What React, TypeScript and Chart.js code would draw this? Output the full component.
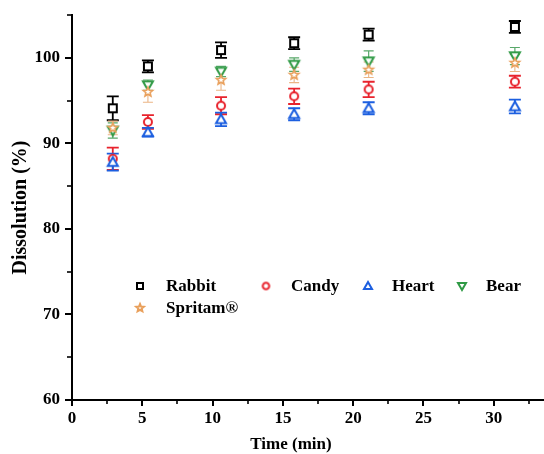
import { useEffect, useRef } from "react";
import { Chart, registerables } from "chart.js";

Chart.register(...registerables);

// Time positions of the sample columns (min)
const timePoints = [2.9, 5.4, 10.6, 15.8, 21.1, 31.5];

const rabbit = [94.1, 99.0, 100.9, 101.7, 102.7, 103.6];
const rabbitErr = [1.4, 0.7, 0.9, 0.7, 0.7, 0.7];
const candy = [88.2, 92.5, 94.4, 95.5, 96.3, 97.2];
const candyErr = [1.3, 0.8, 1.0, 0.9, 0.9, 0.7];
const heart = [87.8, 91.3, 92.8, 93.4, 94.1, 94.3];
const heartErr = [1.0, 0.5, 0.8, 0.7, 0.7, 0.8];
const bear = [91.5, 96.8, 98.4, 99.2, 99.6, 100.2];
const bearErr = [0.9, 0.6, 0.6, 0.8, 1.2, 1.0];
const spritam = [91.8, 96.0, 97.4, 98.0, 98.6, 99.4];
const spritamErr = [0.8, 1.2, 1.2, 0.9, 0.9, 1.0];

const seriesNames = ["Rabbit", "Candy", "Heart", "Bear", "Spritam®"];
const xTitle = "Time (min)";
const yTitle = "Dissolution (%)";

const FONT = "'Liberation Serif', 'Times New Roman', serif";

function makeMarker(shape: string, color: string, size: number, lw: number) {
  const pad = Math.ceil(lw) + 2;
  const dim = Math.ceil(size + pad * 2);
  const c = document.createElement("canvas");
  c.width = dim;
  c.height = dim;
  const ctx = c.getContext("2d")!;
  const cx = dim / 2;
  const cy = dim / 2;
  const r = size / 2;
  ctx.lineWidth = lw;
  ctx.strokeStyle = color;
  ctx.fillStyle = "#fff";
  ctx.lineJoin = "miter";
  ctx.beginPath();
  if (shape === "square") {
    ctx.rect(cx - r, cy - r, size, size);
  } else if (shape === "circle") {
    ctx.arc(cx, cy, r, 0, Math.PI * 2);
  } else if (shape === "up") {
    ctx.moveTo(cx, cy - r);
    ctx.lineTo(cx + r, cy + r * 0.75);
    ctx.lineTo(cx - r, cy + r * 0.75);
    ctx.closePath();
  } else if (shape === "down") {
    ctx.moveTo(cx, cy + r);
    ctx.lineTo(cx + r, cy - r * 0.75);
    ctx.lineTo(cx - r, cy - r * 0.75);
    ctx.closePath();
  } else if (shape === "star") {
    for (let i = 0; i < 10; i++) {
      const a = -Math.PI / 2 + (i * Math.PI) / 5;
      const rr = i % 2 === 0 ? r : r * 0.45;
      const px = cx + rr * Math.cos(a);
      const py = cy + rr * Math.sin(a);
      if (i === 0) ctx.moveTo(px, py);
      else ctx.lineTo(px, py);
    }
    ctx.closePath();
  }
  ctx.fill();
  ctx.stroke();
  return c;
}

const errorBarPlugin = {
  id: "errorBars",
  beforeDatasetsDraw(chart: any) {
    const ctx = chart.ctx;
    const xs = chart.scales.x;
    const ys = chart.scales.y;
    chart.data.datasets.forEach((ds: any) => {
      ctx.save();
      ctx.strokeStyle = ds.errColor;
      ctx.lineWidth = ds.errWidth;
      ds.data.forEach((p: any, j: number) => {
        const e = ds.errors[j];
        const x = xs.getPixelForValue(p.x);
        const yt = ys.getPixelForValue(p.y + e);
        const yb = ys.getPixelForValue(p.y - e);
        const hw = ds.capWidth / 2;
        ctx.beginPath();
        ctx.moveTo(x, yt);
        ctx.lineTo(x, yb);
        ctx.moveTo(x - hw, yt);
        ctx.lineTo(x + hw, yt);
        ctx.moveTo(x - hw, yb);
        ctx.lineTo(x + hw, yb);
        ctx.stroke();
      });
      ctx.restore();
    });
  },
};

const axisTicksPlugin = {
  id: "axisTicks",
  afterDraw(chart: any) {
    const ctx = chart.ctx;
    const xs = chart.scales.x;
    const ys = chart.scales.y;
    const area = chart.chartArea;
    ctx.save();
    ctx.strokeStyle = "#000";
    for (let v = 60; v <= 105; v += 5) {
      const y = Math.round(ys.getPixelForValue(v));
      const major = v % 10 === 0;
      ctx.lineWidth = major ? 2 : 1.6;
      ctx.beginPath();
      ctx.moveTo(area.left, y);
      ctx.lineTo(area.left - (major ? 7 : 5), y);
      ctx.stroke();
    }
    for (let v = 0; v <= 32.5; v += 2.5) {
      const x = Math.round(xs.getPixelForValue(v));
      const major = v % 5 === 0;
      ctx.lineWidth = major ? 2 : 1.6;
      ctx.beginPath();
      ctx.moveTo(x, area.bottom);
      ctx.lineTo(x, area.bottom + (major ? 6 : 4));
      ctx.stroke();
    }
    // x-axis title, slightly left of the axis centre as in the source figure
    ctx.font = `bold 17px ${FONT}`;
    ctx.fillStyle = "#000";
    ctx.textAlign = "center";
    ctx.textBaseline = "middle";
    ctx.fillText(xTitle, area.left + 219, area.bottom + 45);
    ctx.restore();
  },
};

const legendPlugin = {
  id: "insideLegend",
  afterDraw(chart: any) {
    const ctx = chart.ctx;
    const area = chart.chartArea;
    const items = (chart as any).$legendItems as any[];
    if (!items) return;
    ctx.save();
    ctx.font = `bold 17px ${FONT}`;
    ctx.fillStyle = "#000";
    ctx.textBaseline = "middle";
    ctx.textAlign = "left";
    items.forEach((it) => {
      const mx = area.left + it.mx;
      const my = area.top + it.my;
      ctx.drawImage(it.img, mx - it.img.width / 2, my - it.img.height / 2);
      ctx.fillText(it.text, area.left + it.tx, my + 1);
    });
    ctx.restore();
  },
};

export default function App() {
  const ref = useRef<HTMLCanvasElement>(null);

  useEffect(() => {
    const colors = ["#000000", "#e8232d", "#1c5fe0", "#2f9a45", "#e9a05c"];
    const shapes = ["square", "circle", "up", "down", "star"];
    const values = [rabbit, candy, heart, bear, spritam];
    const errs = [rabbitErr, candyErr, heartErr, bearErr, spritamErr];
    const sizes = [8, 8, 10, 10, 10];
    const lws = [2, 2, 2, 2, 1.6];
    const errWidths = [1.8, 1.8, 1.8, 1.2, 1.1];
    const caps = [12, 12, 12, 10, 10];
    const errColors = ["#000000", "#e8232d", "#1c5fe0", "#58a86a", "#ebb585"];

    const datasets = values.map((vals, i) => ({
      label: seriesNames[i],
      data: vals.map((v, j) => ({ x: timePoints[j], y: v })),
      showLine: false,
      pointStyle: makeMarker(shapes[i], colors[i], sizes[i], lws[i]),
      pointRadius: 5,
      borderColor: colors[i],
      backgroundColor: colors[i],
      errors: errs[i],
      errColor: errColors[i],
      errWidth: errWidths[i],
      capWidth: caps[i],
      order: 4 - i,
    }));

    const legendLayout = [
      { mx: 68, my: 271, tx: 94 },
      { mx: 194, my: 271, tx: 219 },
      { mx: 296, my: 271, tx: 320 },
      { mx: 390, my: 271, tx: 414 },
      { mx: 68, my: 293, tx: 94 },
    ];
    const legendSizes = [6, 6.5, 8, 8, 8];
    const legendItems = seriesNames.map((n, i) => ({
      text: n,
      img: makeMarker(shapes[i], colors[i], legendSizes[i], 2),
      ...legendLayout[i],
    }));

    const chart = new Chart(ref.current!, {
      type: "scatter",
      data: { datasets: datasets as any },
      options: {
        responsive: false,
        animation: false,
        layout: { autoPadding: false, padding: { top: 15, right: 1, left: 0, bottom: 0 } },
        plugins: {
          legend: { display: false },
          tooltip: { enabled: false },
        },
        scales: {
          x: {
            type: "linear",
            min: 0,
            max: 33.5,
            grid: { display: true, drawOnChartArea: false, drawTicks: false },
            border: { display: true, color: "#000", width: 2 },
            ticks: {
              stepSize: 2.5,
              autoSkip: false,
              maxRotation: 0,
              padding: 8,
              color: "#000",
              font: { family: FONT, size: 17, weight: "bold" },
              callback: (v: any) => (Number(v) % 5 === 0 ? String(v) : ""),
            },
            title: { display: false },
            afterFit: (s: any) => {
              s.height = 54;
              s.paddingLeft = 0;
              s.paddingRight = 0;
            },
          },
          y: {
            min: 60,
            max: 105,
            grid: { display: true, drawOnChartArea: false, drawTicks: false },
            border: { display: true, color: "#000", width: 2 },
            ticks: {
              stepSize: 5,
              autoSkip: false,
              padding: 12,
              color: "#000",
              font: { family: FONT, size: 17, weight: "bold" },
              callback: (v: any) => (Number(v) % 10 === 0 ? String(v) : ""),
            },
            title: {
              display: true,
              text: yTitle,
              color: "#000",
              font: { family: FONT, size: 20, weight: "bold" },
              padding: { top: 9, bottom: 0 },
            },
            afterFit: (s: any) => {
              s.width = 72;
              s.paddingTop = 0;
              s.paddingBottom = 0;
            },
          },
        },
      } as any,
      plugins: [errorBarPlugin, axisTicksPlugin, legendPlugin],
    });
    (chart as any).$legendItems = legendItems;
    chart.draw();

    return () => chart.destroy();
  }, []);

  return (
    <div style={{ position: "fixed", left: 0, top: 0, width: 544, height: 454, background: "#fff" }}>
      <canvas ref={ref} width={544} height={454} style={{ display: "block" }} />
    </div>
  );
}
